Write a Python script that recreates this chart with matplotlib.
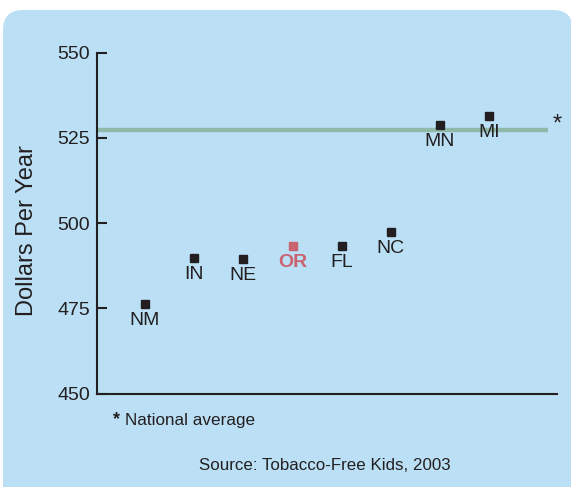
import matplotlib
matplotlib.use("Agg")
import matplotlib.pyplot as plt
from matplotlib.patches import FancyBboxPatch
from matplotlib.transforms import IdentityTransform

plt.rcParams['font.family'] = ['Liberation Sans', 'DejaVu Sans']

states = ["NM", "IN", "NE", "OR", "FL", "NC", "MN", "MI"]
costs = [476.3, 489.8, 489.5, 493.4, 493.4, 497.4, 528.7, 531.5]
national_avg = 527.4
highlight = "OR"
yticks = [450, 475, 500, 525, 550]

W, H = 571, 487
fig = plt.figure(figsize=(W / 100, H / 100), dpi=100)
fig.patch.set_facecolor("white")

bg = FancyBboxPatch((3, -20), 573 - 3, 20 + H - 10,
                    boxstyle="round,pad=0,rounding_size=20",
                    transform=IdentityTransform(), facecolor="#bbe0f6",
                    edgecolor="none", zorder=-5)
fig.patches.append(bg)

ax = fig.add_axes([97 / W, 1 - 393.5 / H, (557 - 97) / W, (393.5 - 52.7) / H])
ax.set_zorder(2)
ax.set_facecolor("none")
ink = "#231f20"
red = "#c9636f"

x = list(range(len(states)))
xmin, xmax = -0.977, 8.38
ax.set_xlim(xmin, xmax)
ax.set_ylim(450, 550)

ax.plot([xmin, 8.2], [national_avg, national_avg], color="#8fb9a8",
        lw=3.2, solid_capstyle="butt", zorder=1, clip_on=False)
ax.annotate("*", xy=(xmax, national_avg), xytext=(0, -4),
            textcoords="offset points", ha="center", va="bottom",
            fontsize=17, color=ink, annotation_clip=False)

for xi, s, v in zip(x, states, costs):
    c = red if s == highlight else ink
    ax.plot(xi, v, marker="s", ms=6, color=c, ls="none", zorder=3)
    ax.annotate(s, xy=(xi, v), xytext=(0, -5.8), textcoords="offset points",
                ha="center", va="top", fontsize=14, color=c,
                fontweight="bold" if s == highlight else "normal")

for side in ["top", "right"]:
    ax.spines[side].set_visible(False)
for side in ["left", "bottom"]:
    ax.spines[side].set_color(ink)
    ax.spines[side].set_linewidth(1.5)
ax.set_xticks([])
ax.set_yticks(yticks)
ax.tick_params(axis="y", direction="in", length=7, width=1.5, color=ink,
               labelsize=14, labelcolor=ink, pad=5)

fig.text(27 / W, 1 - 230.5 / H, "Dollars Per Year", rotation=90,
         ha="center", va="center", fontsize=17, color=ink)
fig.text(113 / W, 1 - 420 / H, "*", ha="left", va="center", fontsize=13,
         fontweight="bold", color=ink)
fig.text(125 / W, 1 - 420 / H, "National average", ha="left", va="center",
         fontsize=12.3, color=ink)
fig.text(325 / W, 1 - 466 / H, "Source: Tobacco-Free Kids, 2003",
         ha="center", va="center", fontsize=12.2, color=ink)

fig.savefig("out.png", dpi=100)
